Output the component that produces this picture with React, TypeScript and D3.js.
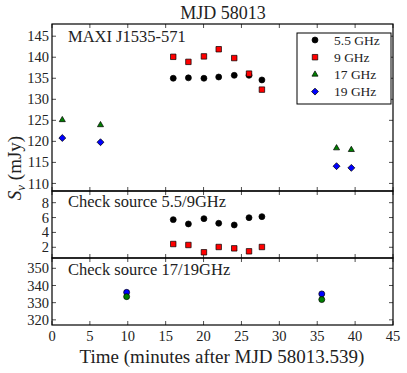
import React, { useEffect, useRef } from 'react';
import * as d3 from 'd3';

// times in minutes after MJD 58013.539
const tMain = [16.0, 18.0, 20.05, 22.0, 24.05, 26.0, 27.7];
const flux55 = [135.0, 135.1, 135.0, 135.3, 135.7, 135.7, 134.6];
const flux9 = [140.1, 138.9, 140.2, 141.9, 139.8, 136.1, 132.3];
const tHigh = [1.36, 6.4, 37.55, 39.5];
const flux17 = [125.1, 123.9, 118.4, 118.0];
const flux19 = [120.8, 119.8, 114.1, 113.7];

const check55 = [5.72, 5.14, 5.85, 5.23, 5.0, 5.98, 6.12];
const check9 = [2.44, 2.31, 1.33, 2.04, 1.86, 1.46, 2.04];

const tCheckHigh = [9.85, 35.6];
const check17 = [333.5, 331.8];
const check19 = [336.0, 335.1];

const xTicks = [0, 5, 10, 15, 20, 25, 30, 35, 40, 45];
const topTicks = [110, 115, 120, 125, 130, 135, 140, 145];
const midTicks = [2, 4, 6, 8];
const botTicks = [320, 330, 340, 350];

const legendItems = [
  { label: '5.5 GHz', shape: 'circle', color: 'black' },
  { label: '9 GHz', shape: 'square', color: 'red' },
  { label: '17 GHz', shape: 'triangle', color: 'green' },
  { label: '19 GHz', shape: 'diamond', color: 'blue' },
];

const FONT = '"Liberation Serif", "DejaVu Serif", serif';
const TEXT = '#222';

export default function App() {
  const ref = useRef<SVGSVGElement>(null);

  useEffect(() => {
    const svg = d3.select(ref.current);
    svg.selectAll('*').remove();

    const left = 52, right = 393;
    const x = d3.scaleLinear().domain([0, 45]).range([left, right]);

    const panels = [
      { top: 24, bottom: 191, domain: [108.2, 147.9], ticks: topTicks },
      { top: 191, bottom: 258, domain: [0.56, 9.57], ticks: midTicks },
      { top: 258, bottom: 325, domain: [317, 356], ticks: botTicks },
    ];
    const ys = panels.map(p => d3.scaleLinear().domain(p.domain).range([p.bottom, p.top]));

    const symbols: any = {
      circle: d3.symbol().type(d3.symbolCircle).size(28),
      square: d3.symbol().type(d3.symbolSquare).size(30),
      triangle: d3.symbol().type(d3.symbolTriangle).size(16),
      diamond: d3.symbol().type(d3.symbolSquare).size(24),
    };
    const rot: any = { diamond: ' rotate(45)' };

    const plot = (g: any, xs: number[], vals: number[], y: any, shape: string, color: string) => {
      g.selectAll(null)
        .data(vals)
        .enter()
        .append('path')
        .attr('d', symbols[shape]())
        .attr('transform', (d: number, i: number) => `translate(${x(xs[i])},${y(d)})${rot[shape] || ''}`)
        .attr('fill', color)
        .attr('stroke', 'black')
        .attr('stroke-width', 0.7);
    };

    panels.forEach((p, i) => {
      const g = svg.append('g');
      const y = ys[i];
      // ticks inside on all four sides
      xTicks.forEach(t => {
        g.append('line').attr('x1', x(t)).attr('x2', x(t)).attr('y1', p.bottom).attr('y2', p.bottom - 4)
          .attr('stroke', 'black').attr('stroke-width', 0.7);
        g.append('line').attr('x1', x(t)).attr('x2', x(t)).attr('y1', p.top).attr('y2', p.top + 4)
          .attr('stroke', 'black').attr('stroke-width', 0.7);
      });
      p.ticks.forEach(t => {
        g.append('line').attr('x1', left).attr('x2', left + 4).attr('y1', y(t)).attr('y2', y(t))
          .attr('stroke', 'black').attr('stroke-width', 0.7);
        g.append('line').attr('x1', right).attr('x2', right - 4).attr('y1', y(t)).attr('y2', y(t))
          .attr('stroke', 'black').attr('stroke-width', 0.7);
        g.append('text').attr('x', left - 3).attr('y', y(t)).attr('dy', '0.35em')
          .attr('text-anchor', 'end').attr('font-size', 14.5).attr('fill', TEXT)
          .attr('font-family', FONT).text(t);
      });
      g.append('rect').attr('x', left).attr('y', p.top).attr('width', right - left)
        .attr('height', p.bottom - p.top).attr('fill', 'none').attr('stroke', 'black').attr('stroke-width', 1.2);
    });

    // top panel
    const g0 = svg.append('g');
    plot(g0, tMain, flux55, ys[0], 'circle', 'black');
    plot(g0, tMain, flux9, ys[0], 'square', 'red');
    plot(g0, tHigh, flux17, ys[0], 'triangle', 'green');
    plot(g0, tHigh, flux19, ys[0], 'diamond', 'blue');

    // check source 5.5/9
    const g1 = svg.append('g');
    plot(g1, tMain, check55, ys[1], 'circle', 'black');
    plot(g1, tMain, check9, ys[1], 'square', 'red');

    // check source 17/19
    const g2 = svg.append('g');
    plot(g2, tCheckHigh, check19, ys[2], 'circle', 'blue');
    plot(g2, tCheckHigh, check17, ys[2], 'circle', 'green');

    const labels = [
      { text: 'MAXI J1535-571', y: 42 },
      { text: 'Check source 5.5/9GHz', y: 207 },
      { text: 'Check source 17/19GHz', y: 275 },
    ];
    labels.forEach(l => {
      svg.append('text').attr('x', 68).attr('y', l.y).attr('font-size', 16.5)
        .attr('font-family', FONT).attr('fill', TEXT).text(l.text);
    });

    // x tick labels
    xTicks.forEach(t => {
      svg.append('text').attr('x', x(t)).attr('y', 341).attr('text-anchor', 'middle')
        .attr('font-size', 14.5).attr('font-family', FONT).attr('fill', TEXT).text(t);
    });

    // legend
    const lg = svg.append('g');
    lg.append('rect').attr('x', 297).attr('y', 33).attr('width', 94).attr('height', 71)
      .attr('fill', 'white').attr('stroke', 'black').attr('stroke-width', 1);
    legendItems.forEach((it, i) => {
      const yy = 40 + i * 17.2;
      lg.append('path').attr('d', symbols[it.shape]())
        .attr('transform', `translate(315,${yy})${rot[it.shape] || ''}`)
        .attr('fill', it.color).attr('stroke', 'black').attr('stroke-width', 0.7);
      lg.append('text').attr('x', 334).attr('y', yy).attr('dy', '0.35em').attr('font-size', 13.5)
        .attr('font-family', FONT).attr('fill', TEXT).text(it.label);
    });

    // title and axis labels
    svg.append('text').attr('x', 223).attr('y', 19).attr('text-anchor', 'middle')
      .attr('font-size', 18).attr('font-family', FONT).attr('fill', TEXT).text('MJD 58013');
    svg.append('text').attr('x', 222).attr('y', 363).attr('text-anchor', 'middle')
      .attr('font-size', 19).attr('font-family', FONT).attr('fill', TEXT)
      .text('Time (minutes after MJD 58013.539)');

    const yl = svg.append('text').attr('transform', 'translate(21,168) rotate(-90)')
      .attr('text-anchor', 'middle').attr('font-size', 19).attr('font-family', FONT).attr('fill', TEXT);
    yl.append('tspan').attr('font-style', 'italic').text('S');
    yl.append('tspan').attr('font-style', 'italic').attr('font-size', 13).attr('dy', 4).text('ν');
    yl.append('tspan').attr('dy', -4).text(' (mJy)');
  }, []);

  return (
    <svg ref={ref} width={407} height={373} style={{ position: 'absolute', left: 0, top: 0, background: 'white' }} />
  );
}
